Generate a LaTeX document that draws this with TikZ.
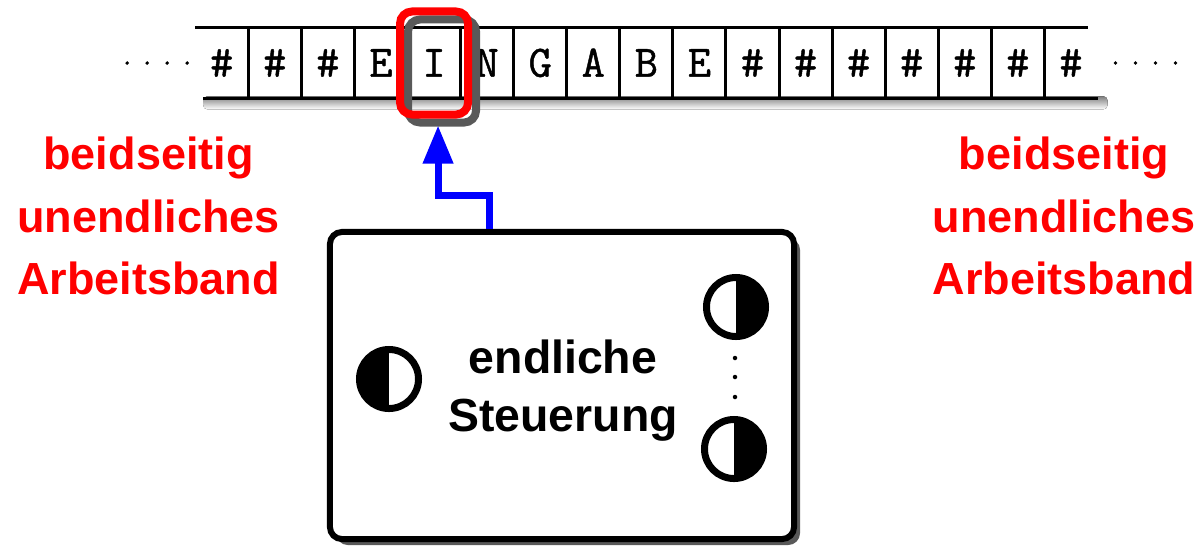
\documentclass[tikz,border=0pt]{standalone}
\usepackage{fontspec}
\setmainfont{Liberation Sans}
\newfontfamily\tapefont[FakeBold=1]{Latin Modern Mono}
\usepackage{tikz}
\usetikzlibrary{positioning,calc,shadows,arrows.meta}
\definecolor{shade}{gray}{0.35}

\begin{document}
\begin{tikzpicture}[x=0.025cm, y=-0.025cm, node distance=0pt,
    cell/.style={minimum width=1.3125cm, minimum height=1.75cm, inner sep=0pt,
      font=\tapefont\fontsize{32}{32}\selectfont, text height=19.5pt, text depth=0pt},
    tapeline/.style={line width=0.075cm},
    head/.style={draw=red, line width=0.2cm, rounded corners=0.3cm,
      minimum width=1.7cm, minimum height=2.575cm, inner sep=0pt},
    headshade/.style={head, draw=shade},
    ctrlbox/.style={draw, fill=white, line width=0.15cm, rounded corners=0.3cm,
      minimum width=11.6cm, minimum height=7.675cm,
      drop shadow={shadow xshift=0.15cm, shadow yshift=-0.15cm, fill=shade, opacity=1}},
    ctrltext/.style={align=center, font=\bfseries\fontsize{33}{41.5}\selectfont},
    stL/.style={circle, draw, line width=0.175cm, minimum size=1.475cm, inner sep=0pt,
      path picture={\fill (path picture bounding box.south west) rectangle (path picture bounding box.north);}},
    stR/.style={circle, draw, line width=0.175cm, minimum size=1.475cm, inner sep=0pt,
      path picture={\fill (path picture bounding box.south) rectangle (path picture bounding box.north east);}},
    band/.style={text=red, align=center, font=\bfseries\fontsize{32}{44.5}\selectfont},
    ptr/.style={draw=blue, line width=0.175cm, -{Triangle[length=0.95cm, width=0.725cm]}}]
    \useasboundingbox (0,0) rectangle (1203,549);

    % the tape
    \node [cell] (c1) at (221.75,63) {\#};
    \node [cell, right=of c1] (c2) {\#};
    \node [cell, right=of c2] (c3) {\#};
    \node [cell, right=of c3] (c4) {E};
    \node [cell, right=of c4] (c5) {I};
    \node [cell, right=of c5] (c6) {N};
    \node [cell, right=of c6] (c7) {G};
    \node [cell, right=of c7] (c8) {A};
    \node [cell, right=of c8] (c9) {B};
    \node [cell, right=of c9] (c10) {E};
    \node [cell, right=of c10] (c11) {\#};
    \node [cell, right=of c11] (c12) {\#};
    \node [cell, right=of c12] (c13) {\#};
    \node [cell, right=of c13] (c14) {\#};
    \node [cell, right=of c14] (c15) {\#};
    \node [cell, right=of c15] (c16) {\#};
    \node [cell, right=of c16] (c17) {\#};

    \fill [shade, rounded corners=0.1cm] ($(c1.south west)+(8,-2)$) rectangle ($(c17.south east)+(10,11)$);
    \draw [tapeline] (c1.north west) -- ($(c17.north east)+(-10,0)$);
    \draw [tapeline] ($(c1.south west)+(8,0)$) -- (c17.south east);
    \draw [tapeline] (c1.north east) -- (c1.south east) (c2.north east) -- (c2.south east)
      (c3.north east) -- (c3.south east) (c4.north east) -- (c4.south east)
      (c5.north east) -- (c5.south east) (c6.north east) -- (c6.south east)
      (c7.north east) -- (c7.south east) (c8.north east) -- (c8.south east)
      (c9.north east) -- (c9.south east) (c10.north east) -- (c10.south east)
      (c11.north east) -- (c11.south east) (c12.north east) -- (c12.south east)
      (c13.north east) -- (c13.south east) (c14.north east) -- (c14.south east)
      (c15.north east) -- (c15.south east) (c16.north east) -- (c16.south east);
    \fill ($(c1.west)+(-8,0)$) circle (1.4pt) ($(c1.west)+(-28,0)$) circle (1.4pt)
      ($(c1.west)+(-48,0)$) circle (1.4pt) ($(c1.west)+(-68,0)$) circle (1.4pt);
    \fill ($(c17.east)+(18,0)$) circle (1.4pt) ($(c17.east)+(38,0)$) circle (1.4pt)
      ($(c17.east)+(58,0)$) circle (1.4pt) ($(c17.east)+(78,0)$) circle (1.4pt);

    % read/write head
    \node [headshade] (headsh) at ($(c5)+(8,8)$) {};
    \node [head] (head) at (c5) {};

    % labels
    \node [band] (bandL) at (148.5,216) {beidseitig\\unendliches\\Arbeitsband};
    \node [band] (bandR) at (1064,216) {beidseitig\\unendliches\\Arbeitsband};

    % finite control
    \node [ctrlbox] (ctrl) at (562,385.5) {};
    \node [ctrltext] (ctrltxt) at ($(ctrl)+(1,5)$) {endliche\\Steuerung};
    \node [stL] (q0) at (389,379) {};
    \node [stR] (q1) at (736,307) {};
    \node [stR] (qn) at (734,449) {};
    \fill (735,358) circle (1.6pt) (735,377) circle (1.6pt) (735,397) circle (1.6pt);

    \draw [ptr] ($(ctrl.north)+(-73,0)$) -- ++(0,-33) -| ($(head.south)+(4,7)$);
\end{tikzpicture}
\end{document}
